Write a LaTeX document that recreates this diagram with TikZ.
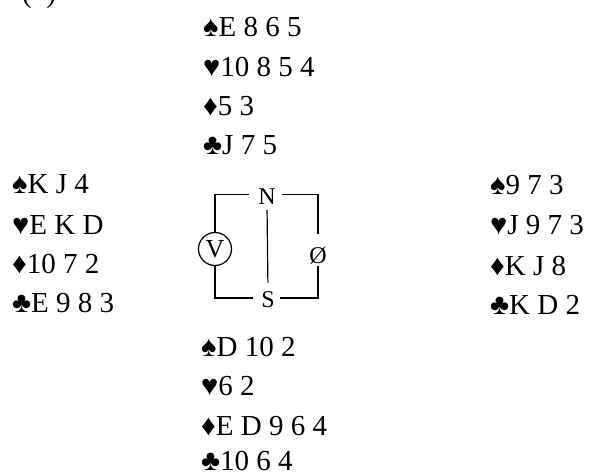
\documentclass[tikz,border=0pt]{standalone}
\usepackage{fontspec}
\setmainfont{Liberation Serif}
\begin{document}
\begin{tikzpicture}[x=1pt,y=1pt,
  handline/.style={anchor=base west,inner sep=0pt,font=\fontsize{29}{35}\selectfont},
  compass/.style={inner sep=1pt,font=\fontsize{24}{28}\selectfont},
  frame/.style={line width=1.2pt}]
\useasboundingbox (0,0) rectangle (597,-473);
\begin{scope}
\clip (0,0) rectangle (597,-473);
\node[handline] (lab) at (22,-3) {(\hphantom{b})};
\end{scope}
% North
\node[handline] (n1) at (203,-37) {♠E 8 6 5};
\node[handline] (n2) at (203,-77) {♥10 8 5 4};
\node[handline] (n3) at (203,-116) {♦5 3};
\node[handline] (n4) at (203,-155) {♣J 7 5};
% West
\node[handline] (w1) at (12,-194) {♠K J 4};
\node[handline] (w2) at (12,-234) {♥E K D};
\node[handline] (w3) at (12,-273) {♦10 7 2};
\node[handline] (w4) at (12,-312) {♣E 9 8 3};
% East
\node[handline] (e1) at (490,-195) {♠9 7 3};
\node[handline] (e2) at (490,-235) {♥J 9 7 3};
\node[handline] (e3) at (490,-275) {♦K J 8};
\node[handline] (e4) at (490,-314) {♣K D 2};
% South
\node[handline] (s1) at (201,-356) {♠D 10 2};
\node[handline] (s2) at (201,-395) {♥6 2};
\node[handline] (s3) at (201,-435) {♦E D 9 6 4};
\node[handline] (s4) at (201,-470) {♣10 6 4};
% Compass
\node[compass] (N) at (267,-197) {N};
\node[compass] (S) at (268,-300) {S};
\node[compass,draw,circle,line width=1.2pt,inner sep=0pt,minimum size=33pt,font=\fontsize{26}{30}\selectfont] (V) at (215,-249) {V};
\node[compass] (O) at (318,-256) {Ø};
\draw[frame] ([xshift=-8pt,yshift=2.5pt]N.west) -| (V.north);
\draw[frame] (V.south) |- ([xshift=-7pt,yshift=2pt]S.west);
\draw[frame] ([xshift=5pt,yshift=2.5pt]N.east) -| ([yshift=12pt]O.north);
\draw[frame] (O.south) |- ([xshift=4pt,yshift=2pt]S.east);
\draw[frame,shorten <=4pt,shorten >=8pt] (N.south) -- (S.north);
\end{tikzpicture}
\end{document}
